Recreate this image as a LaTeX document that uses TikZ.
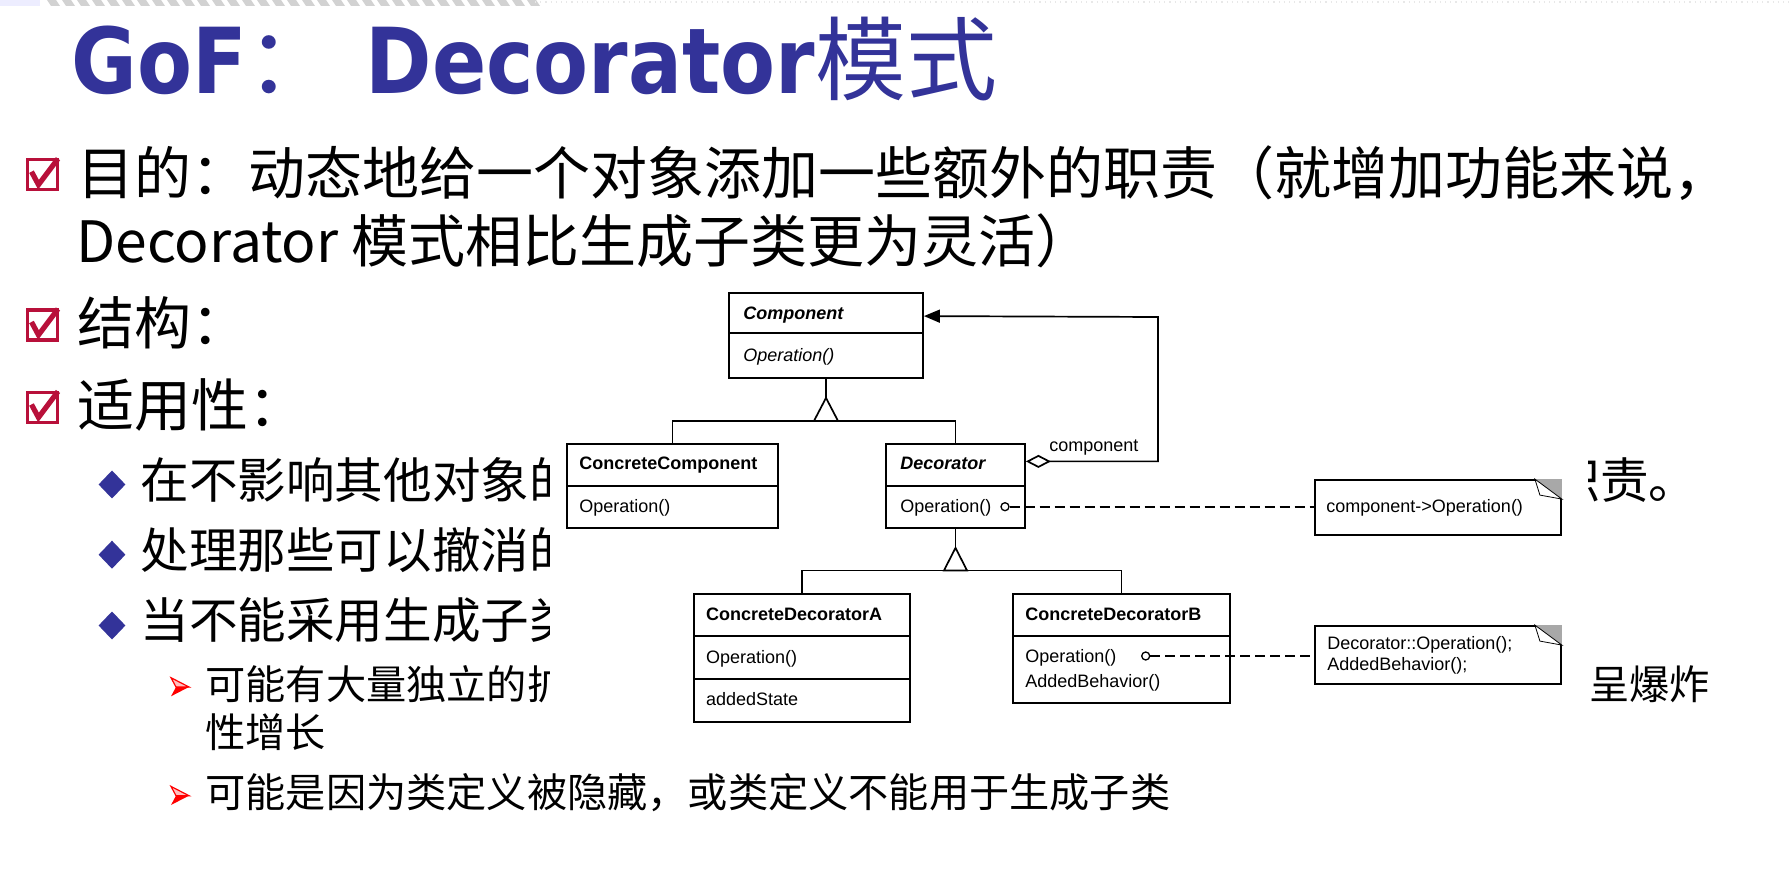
\documentclass[tikz,border=0pt]{standalone}
\usepackage{fontspec}
\usetikzlibrary{arrows.meta,calc}
\newfontfamily\cjk{Noto Sans CJK SC}
\newfontfamily\umlfont{Liberation Sans}
\newfontfamily\titlefont{DejaVu Sans}[FakeStretch=0.88]
\definecolor{titleblue}{HTML}{333399}
\definecolor{boxred}{HTML}{B8103A}
\definecolor{arrowred}{HTML}{FF0000}
\definecolor{foldgray}{HTML}{A8A8A8}

\tikzset{
  lvlone/.style={anchor=base west, inner sep=0pt, font=\cjk\fontsize{28.5}{34}\selectfont},
  lvltwo/.style={anchor=base west, inner sep=0pt, font=\cjk\fontsize{24.3}{29}\selectfont},
  lvlthree/.style={anchor=base west, inner sep=0pt, font=\cjk\fontsize{20.1}{24}\selectfont},
  classbox/.style={draw=black, line width=0.9pt, fill=white, inner sep=0pt},
  notebox/.style={draw=black, line width=0.9pt, fill=white, inner sep=0pt},
  umltext/.style={anchor=base west, inner sep=0pt, font=\umlfont\fontsize{9}{10.35}\selectfont},
  umlbold/.style={anchor=base west, inner sep=0pt, font=\umlfont\bfseries\fontsize{9}{10.35}\selectfont},
  umlbolditalic/.style={anchor=base west, inner sep=0pt, font=\umlfont\bfseries\itshape\fontsize{9}{10.35}\selectfont},
  umlitalic/.style={anchor=base west, inner sep=0pt, font=\umlfont\itshape\fontsize{9}{10.35}\selectfont},
  link/.style={draw=black, line width=0.85pt},
  pin/.style={circle, draw=black, fill=white, line width=0.65pt, minimum size=4pt, inner sep=0pt},
  notelink/.style={draw=black, line width=0.85pt, dash pattern=on 5pt off 2.5pt},
  checkbullet/.pic={
    \draw[boxred, line width=1.8pt] (-15,-15) rectangle (15,15);
    \draw[boxred, line width=2.6pt, line join=miter] (-11,-3) -- (-4,10) -- (15.5,-16);
  },
  diamondbullet/.pic={
    \fill[titleblue] (0,-14) -- (13.4,0) -- (0,14) -- (-13.4,0) -- cycle;
  },
  arrowbullet/.pic={
    \fill[arrowred!25] (-9,-9.3) -- (9,0) -- (-4,0) -- cycle;
    \draw[arrowred, line width=0.6pt] (-9,-9.3) -- (9,0) -- (-4,0) -- cycle;
    \fill[arrowred] (-4,0) -- (9,0) -- (-9,9.3) -- cycle;
  },
  notefold/.pic={
    \fill[foldgray] (-27,0) -- (0,0) -- (0,20) -- cycle;
    \filldraw[fill=white, draw=black, line width=0.4pt] (-27,0) -- (-22,16) -- (0,20) -- cycle;
  }
}

\begin{document}
\begin{tikzpicture}[x=0.5pt, y=-0.5pt]
\useasboundingbox (0,0) rectangle (1789,871);
\fill[white] (0,0) rectangle (1789,871);

% template strip along the top edge
\fill[blue!7] (0,0) rectangle (40,6);
\foreach \i in {0,...,32}
  \fill[gray!35] (47+\i*15,0) -- ++(9,0) -- ++(4,6) -- ++(-9,0) -- cycle;
\draw[gray!18, dotted, line width=0.6pt] (535,2) -- (1789,2);

% title
\node[anchor=base west, inner sep=0pt, text=titleblue] (title) at (71,93.3)
  {\fontsize{45.5}{50}\selectfont\titlefont\bfseries GoF{\cjk\mdseries ：} Decorator{\cjk\mdseries 模式}};

% first-level bullets
\pic at (42.5,174.7) {checkbullet};
\pic at (42.5,325) {checkbullet};
\pic at (42.5,407.5) {checkbullet};
\node[lvlone] (intent1) at (77.5,194.3) {目的：动态地给一个对象添加一些额外的职责（就增加功能来说，};
\node[lvlone] (intent2) at (76,262.8) {Decorator 模式相比生成子类更为灵活）};
\node[lvlone] (structure) at (77.5,344.3) {结构：};
\node[lvlone] (applic) at (77.5,426.8) {适用性：};

% second-level bullets
\pic at (112,484.5) {diamondbullet};
\pic at (112,554.7) {diamondbullet};
\pic at (112,625.5) {diamondbullet};
\node[lvltwo] (app1) at (140,498.8) {在不影响其他对象的};
\node[lvltwo] (app1tail) at (1551,498.8) {职责。};
\node[lvltwo] (app2) at (140,568.8) {处理那些可以撤消的};
\node[lvltwo] (app3) at (140,638.8) {当不能采用生成子类};

% third-level bullets
\pic at (180,687) {arrowbullet};
\pic at (180,795.7) {arrowbullet};
\node[lvlthree] (sub1) at (205,699.5) {可能有大量独立的扩};
\node[lvlthree] (sub1tail) at (1589,699.5) {呈爆炸};
\node[lvlthree] (sub1b) at (205,747.5) {性增长};
\node[lvlthree] (sub2) at (205,807.5) {可能是因为类定义被隐藏，或类定义不能用于生成子类};

% pasted structure diagram
\fill[white] (550,270) rectangle (1588,765);

% classes
\node[classbox, minimum width=97pt, minimum height=42.5pt] (comp) at (826,335.5) {};
\draw[line width=0.9pt] ($(comp.north west)+(0,41)$) -- ($(comp.north east)+(0,41)$);
\node[umlbolditalic] (compname) at (743,319.3) {Component};
\node[umlitalic] (compop) at (743,361.7) {Operation()};

\node[classbox, minimum width=105.5pt, minimum height=42pt] (cc) at (672.5,486) {};
\draw[line width=0.9pt] (cc.west) -- (cc.east);
\node[umlbold] (ccname) at (579,470) {ConcreteComponent};
\node[umltext] (ccop) at (579,512.3) {Operation()};

\node[classbox, minimum width=69.5pt, minimum height=42pt] (deco) at (955.5,486) {};
\draw[line width=0.9pt] (deco.west) -- (deco.east);
\node[umlbolditalic] (deconame) at (900,470) {Decorator};
\node[umltext] (decoop) at (900,512.3) {Operation()};
\node[pin] (circ1) at (1005,506.7) {};

\node[classbox, minimum width=108pt, minimum height=64pt] (cda) at (802,658) {};
\draw[line width=0.9pt] ($(cda.north west)+(0,43)$) -- ($(cda.north east)+(0,43)$);
\draw[line width=0.9pt] ($(cda.north west)+(0,86)$) -- ($(cda.north east)+(0,86)$);
\node[umlbold] (cdaname) at (705.7,620.7) {ConcreteDecoratorA};
\node[umltext] (cdaop) at (705.7,663.3) {Operation()};
\node[umltext] (cdastate) at (705.7,705) {addedState};

\node[classbox, minimum width=108.5pt, minimum height=54.5pt] (cdb) at (1121.5,648.5) {};
\draw[line width=0.9pt] ($(cdb.north west)+(0,43)$) -- ($(cdb.north east)+(0,43)$);
\node[umlbold] (cdbname) at (1025,620.7) {ConcreteDecoratorB};
\node[umltext] (cdbop) at (1025,662.3) {Operation()};
\node[umltext] (cdbadd) at (1025,687.3) {AddedBehavior()};
\node[pin] (circ2) at (1145.7,656) {};

% notes
\node[notebox, minimum width=123pt, minimum height=27.5pt] (note1) at (1438,507.5) {};
\pic at (note1.north east) {notefold};
\node[umltext] (note1text) at (1326,512.3) {component->Operation()};

\node[notebox, minimum width=123pt, minimum height=29pt] (note2) at (1438,655) {};
\pic at (note2.north east) {notefold};
\node[umltext] (note2texta) at (1327,649.3) {Decorator::Operation();};
\node[umltext] (note2textb) at (1327,670) {AddedBehavior();};

% generalisation: Component <- ConcreteComponent, Decorator
\coordinate (tri1) at ($(comp.south)+(0,19)$);
\coordinate (bar1) at ($(tri1)+(0,23)$);
\draw[link] (comp.south) -- (tri1);
\draw[link, fill=white] (tri1) -- ++(-12,23) -- ++(24,0) -- cycle;
\draw[link] (cc.north) |- (bar1) -| (deco.north);

% generalisation: Decorator <- ConcreteDecoratorA, ConcreteDecoratorB
\coordinate (tri2) at ($(deco.south)+(0,19)$);
\coordinate (bar2) at ($(tri2)+(0,22.5)$);
\draw[link] (deco.south) -- (tri2);
\draw[link, fill=white] (tri2) -- ++(-11.5,22.5) -- ++(23,0) -- cycle;
\draw[link] (cda.north) |- (bar2) -| (cdb.north);

% aggregation: Decorator holds a Component
\coordinate (aggstart) at ($(deco.north east)+(0,18.3)$);
\coordinate (aggturn) at (1158,317);
\coordinate (compref) at ($(comp.north east)+(0,24)$);
\draw[link, {Diamond[open, length=12.5pt, width=6.5pt, line width=0.85pt]}-{Triangle[length=8pt, width=6.5pt]}]
  (aggstart) -| (aggturn) -- (compref);
\node[umltext] (aggname) at (1049,451.7) {component};

% note attachments
\draw[notelink] (circ1.east) -- (circ1.east -| note1.west);
\draw[notelink] (circ2.east) -- (circ2.east -| note2.west);
\end{tikzpicture}
\end{document}
